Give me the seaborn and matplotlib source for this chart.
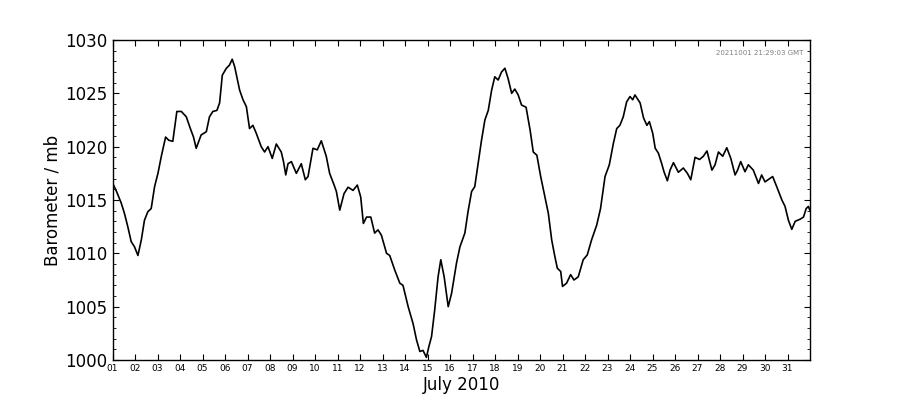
import numpy as np
import pandas as pd
import matplotlib
matplotlib.use("Agg")
import matplotlib.pyplot as plt
import matplotlib.dates as mdates
from matplotlib.ticker import MultipleLocator
import seaborn as sns

# ── Data (day of July 2010, pressure in mb) ──────────────────────────────────
day = [1.00, 1.16, 1.39, 1.53, 1.68, 1.83, 1.98, 2.13, 2.28, 2.42,
       2.57, 2.72, 2.87, 3.02, 3.17, 3.36, 3.50, 3.68, 3.86, 4.06,
       4.28, 4.46, 4.60, 4.72, 4.94, 5.17, 5.31, 5.46, 5.64, 5.76,
       5.88, 6.06, 6.20, 6.32, 6.43, 6.65, 6.80, 6.95, 7.09, 7.24,
       7.39, 7.61, 7.76, 7.91, 8.10, 8.28, 8.50, 8.60, 8.70, 8.80,
       8.95, 9.17, 9.39, 9.57, 9.69, 9.91, 10.10, 10.28, 10.50, 10.65,
       10.85, 10.95, 11.10, 11.29, 11.47, 11.69, 11.88, 12.03, 12.15, 12.29,
       12.48, 12.65, 12.80, 12.95, 13.18, 13.32, 13.55, 13.77, 13.91, 14.14,
       14.36, 14.51, 14.66, 14.80, 14.95, 15.06, 15.18, 15.32, 15.47, 15.59,
       15.74, 15.92, 16.07, 16.29, 16.44, 16.66, 16.80, 16.96, 17.10, 17.25,
       17.40, 17.55, 17.70, 17.85, 17.99, 18.14, 18.29, 18.44, 18.58, 18.74,
       18.88, 19.03, 19.18, 19.38, 19.56, 19.70, 19.86, 20.03, 20.22, 20.37,
       20.52, 20.66, 20.77, 20.92, 21.00, 21.18, 21.36, 21.51, 21.70, 21.92,
       22.10, 22.29, 22.52, 22.69, 22.89, 23.08, 23.26, 23.41, 23.55, 23.70,
       23.85, 24.00, 24.12, 24.22, 24.45, 24.60, 24.75, 24.86, 25.01, 25.12,
       25.26, 25.41, 25.51, 25.66, 25.78, 25.93, 26.15, 26.37, 26.55, 26.70,
       26.89, 27.09, 27.26, 27.42, 27.64, 27.78, 27.93, 28.12, 28.30, 28.48,
       28.67, 28.77, 28.92, 29.11, 29.26, 29.48, 29.71, 29.85, 30.00, 30.20,
       30.34, 30.52, 30.75, 30.89, 31.04, 31.19, 31.34, 31.56, 31.71, 31.83,
       31.93, 31.99]

pressure = [1016.6, 1015.9, 1014.7, 1013.75, 1012.5, 1011.1, 1010.6, 1009.8, 1011.25, 1013.1,
            1013.9, 1014.2, 1016.25, 1017.5, 1019.1, 1020.9, 1020.6, 1020.5, 1023.3, 1023.3,
            1022.8, 1021.7, 1020.9, 1019.85, 1021.1, 1021.4, 1022.8, 1023.3, 1023.4, 1024.1,
            1026.7, 1027.35, 1027.65, 1028.2, 1027.5, 1025.3, 1024.4, 1023.75, 1021.7, 1022.0,
            1021.25, 1020.0, 1019.5, 1020.0, 1018.9, 1020.25, 1019.5, 1018.6, 1017.35, 1018.4,
            1018.6, 1017.5, 1018.4, 1016.9, 1017.2, 1019.85, 1019.7, 1020.55, 1019.1, 1017.5,
            1016.4, 1015.8, 1014.05, 1015.6, 1016.2, 1015.9, 1016.4, 1015.3, 1012.8, 1013.4,
            1013.4, 1011.9, 1012.2, 1011.7, 1010.0, 1009.8, 1008.4, 1007.2, 1007.0, 1005.0,
            1003.4, 1001.9, 1000.8, 1000.9, 1000.25, 1001.25, 1002.2, 1004.7, 1007.8, 1009.4,
            1007.8, 1005.0, 1006.25, 1009.1, 1010.6, 1011.9, 1013.9, 1015.8, 1016.25, 1018.4,
            1020.6, 1022.5, 1023.4, 1025.3, 1026.55, 1026.25, 1027.0, 1027.35, 1026.4, 1025.0,
            1025.4, 1024.85, 1023.9, 1023.7, 1021.55, 1019.5, 1019.2, 1017.2, 1015.3, 1013.75,
            1011.25, 1009.7, 1008.6, 1008.3, 1006.9, 1007.2, 1008.0, 1007.5, 1007.8, 1009.4,
            1009.85, 1011.25, 1012.65, 1014.2, 1017.2, 1018.3, 1020.3, 1021.7, 1022.0, 1022.8,
            1024.2, 1024.7, 1024.4, 1024.85, 1024.1, 1022.7, 1022.0, 1022.35, 1021.25, 1019.85,
            1019.4, 1018.4, 1017.65, 1016.8, 1017.8, 1018.5, 1017.6, 1018.0, 1017.5, 1016.9,
            1019.0, 1018.8, 1019.1, 1019.6, 1017.8, 1018.3, 1019.5, 1019.1, 1019.9, 1018.9,
            1017.35, 1017.75, 1018.6, 1017.65, 1018.3, 1017.8, 1016.55, 1017.35, 1016.7, 1017.0,
            1017.2, 1016.25, 1015.0, 1014.4, 1013.1, 1012.25, 1013.0, 1013.2, 1013.4, 1014.2,
            1014.4, 1014.05]

stamp = "20211001 21:29:03 GMT"

df = pd.DataFrame({
    "time": pd.Timestamp("2010-07-01") + pd.to_timedelta(np.array(day) - 1, unit="D"),
    "pressure": pressure,
})

# ── Style ─────────────────────────────────────────────────────────────────────
sns.set_style("ticks")
plt.rcParams["font.family"] = ["DejaVu Sans"]
plt.rcParams.update({
    "xtick.direction": "in", "ytick.direction": "in",
    "xtick.top": True, "ytick.right": True,
    "xtick.major.size": 4, "ytick.major.size": 4,
    "ytick.minor.size": 2, "ytick.minor.visible": True,
    "axes.edgecolor": "black", "axes.linewidth": 1.0,
    "text.color": "black", "axes.labelcolor": "black",
    "xtick.color": "black", "ytick.color": "black",
})

fig, ax = plt.subplots(figsize=(9, 4), dpi=100)
fig.subplots_adjust(left=0.125, right=0.9, bottom=0.1, top=0.9)

sns.lineplot(data=df, x="time", y="pressure", ax=ax, color="black", linewidth=1.2)

ax.set_xlim(pd.Timestamp("2010-07-01"), pd.Timestamp("2010-07-31 23:59"))
ax.set_ylim(1000, 1030)
ax.xaxis.set_major_locator(mdates.DayLocator())
ax.xaxis.set_major_formatter(mdates.DateFormatter("%d"))
ax.yaxis.set_major_locator(MultipleLocator(5))
ax.yaxis.set_minor_locator(MultipleLocator(1))
ax.tick_params(axis="x", labelsize=6.5, pad=3)
ax.tick_params(axis="y", labelsize=12, pad=4)

ax.set_xlabel("July 2010", fontsize=12, labelpad=2)
ax.set_ylabel("Barometer / mb", fontsize=12, labelpad=2)

ax.text(0.99, 0.96, stamp, transform=ax.transAxes, ha="right", va="center",
        fontsize=5, color="gray")

plt.savefig("out.png", dpi=100)
